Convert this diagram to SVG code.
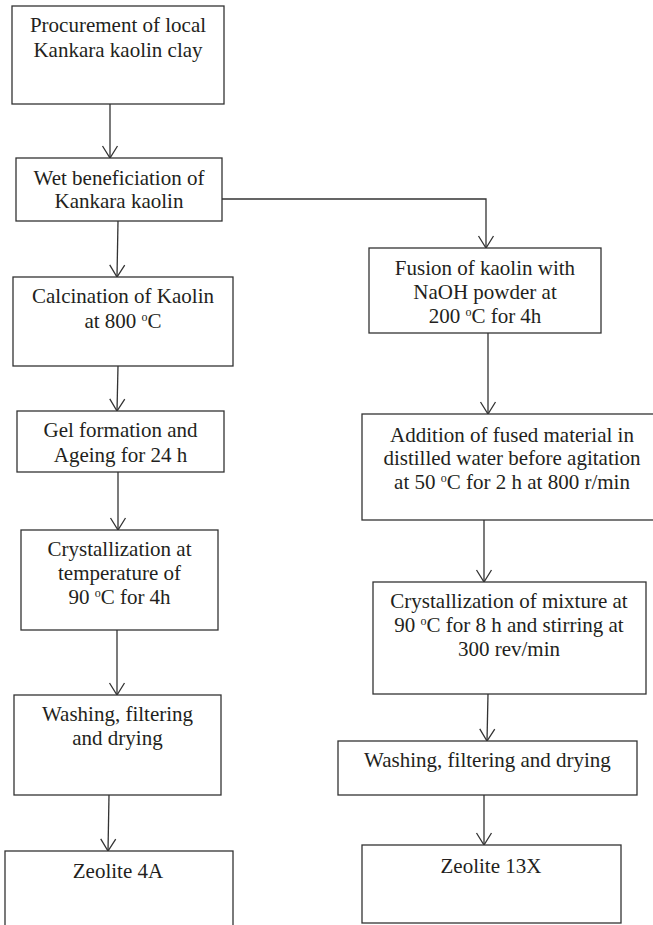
<svg xmlns="http://www.w3.org/2000/svg" width="653" height="925" viewBox="0 0 653 925">
<style>
.box{fill:#fff;stroke:#333;stroke-width:1.3}
.t{font-family:"Liberation Serif","Times New Roman",serif;font-size:21px;fill:#231f20;text-anchor:middle}
.sup{font-size:12px}
.c{fill:none;stroke:#333;stroke-width:1.3}
</style>
<defs>
<marker id="arr" markerUnits="userSpaceOnUse" viewBox="-14 -9 16 18" refX="0" refY="0" markerWidth="16" markerHeight="18" orient="auto">
<path d="M-12,-7.5 L0,0 L-12,7.5" fill="none" stroke="#333" stroke-width="1.3"/>
</marker>
</defs>
<rect width="653" height="925" fill="#fff"/>
<g id="connectors">
<path class="c" d="M110,104 L110,158" marker-end="url(#arr)"/>
<path class="c" d="M118,221 L117,277" marker-end="url(#arr)"/>
<path class="c" d="M118,366 L117,411" marker-end="url(#arr)"/>
<path class="c" d="M118,472 L118,530" marker-end="url(#arr)"/>
<path class="c" d="M117,630 L117,695" marker-end="url(#arr)"/>
<path class="c" d="M109,795 L108,851" marker-end="url(#arr)"/>
<path class="c" d="M222,199 L486,199 L486,248" marker-end="url(#arr)"/>
<path class="c" d="M488,333 L488,414" marker-end="url(#arr)"/>
<path class="c" d="M484,520 L484,582" marker-end="url(#arr)"/>
<path class="c" d="M488,694 L487,741" marker-end="url(#arr)"/>
<path class="c" d="M484,795 L484,845" marker-end="url(#arr)"/>
</g>
<g id="n1">
<rect class="box" x="12" y="6" width="212" height="98"/>
<text class="t" x="118" y="32">Procurement of local</text>
<text class="t" x="118" y="57">Kankara kaolin clay</text>
</g>
<g id="n2">
<rect class="box" x="16" y="158" width="206" height="63"/>
<text class="t" x="119" y="185">Wet beneficiation of</text>
<text class="t" x="119" y="208">Kankara kaolin</text>
</g>
<g id="n3">
<rect class="box" x="13" y="277" width="220" height="89"/>
<text class="t" x="123" y="303">Calcination of Kaolin</text>
<text class="t" x="123" y="328">at 800 <tspan class="sup" dy="-7">o</tspan><tspan dy="7">C</tspan></text>
</g>
<g id="n4">
<rect class="box" x="17" y="411" width="207" height="61"/>
<text class="t" x="120.5" y="437">Gel formation and</text>
<text class="t" x="120.5" y="462">Ageing for 24 h</text>
</g>
<g id="n5">
<rect class="box" x="21" y="530" width="197" height="100"/>
<text class="t" x="119.5" y="556">Crystallization at</text>
<text class="t" x="119.5" y="580">temperature of</text>
<text class="t" x="119.5" y="604">90 <tspan class="sup" dy="-7">o</tspan><tspan dy="7">C for 4h</tspan></text>
</g>
<g id="n6">
<rect class="box" x="14" y="695" width="207" height="100"/>
<text class="t" x="117.5" y="721">Washing, filtering</text>
<text class="t" x="117.5" y="745">and drying</text>
</g>
<g id="n7">
<rect class="box" x="5" y="851" width="228" height="100"/>
<text class="t" x="118" y="878">Zeolite 4A</text>
</g>
<g id="n8">
<rect class="box" x="369" y="248" width="232" height="85"/>
<text class="t" x="485" y="275">Fusion of kaolin with</text>
<text class="t" x="485" y="299">NaOH powder at</text>
<text class="t" x="485" y="323">200 <tspan class="sup" dy="-7">o</tspan><tspan dy="7">C for 4h</tspan></text>
</g>
<g id="n9">
<rect class="box" x="362" y="414" width="310" height="106"/>
<text class="t" x="512" y="442">Addition of fused material in</text>
<text class="t" x="512" y="465">distilled water before agitation</text>
<text class="t" x="512" y="489">at 50 <tspan class="sup" dy="-7">o</tspan><tspan dy="7">C for 2 h at 800 r/min</tspan></text>
</g>
<g id="n10">
<rect class="box" x="373" y="582" width="273" height="112"/>
<text class="t" x="509" y="608">Crystallization of mixture at</text>
<text class="t" x="509" y="632">90 <tspan class="sup" dy="-7">o</tspan><tspan dy="7">C for 8 h and stirring at</tspan></text>
<text class="t" x="509" y="656">300 rev/min</text>
</g>
<g id="n11">
<rect class="box" x="338" y="741" width="299" height="54"/>
<text class="t" x="487.5" y="767">Washing, filtering and drying</text>
</g>
<g id="n12">
<rect class="box" x="362" y="845" width="259" height="78"/>
<text class="t" x="491" y="873">Zeolite 13X</text>
</g>
</svg>
